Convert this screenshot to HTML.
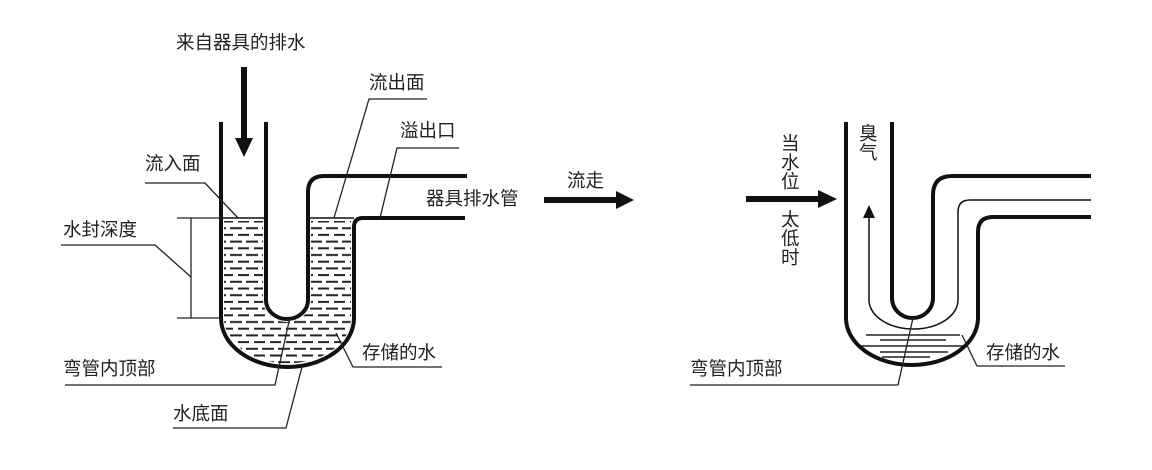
<!DOCTYPE html>
<html><head><meta charset="utf-8"><style>
html,body{margin:0;padding:0;background:#fff;}
svg text{font-family:"Liberation Sans","Noto Sans CJK SC",sans-serif;font-size:18.5px;fill:#222;}
</style></head><body>
<svg width="1152" height="465" viewBox="0 0 1152 465" xmlns="http://www.w3.org/2000/svg">
<defs>
<pattern id="dash" x="221" y="218" width="16" height="13.4" patternUnits="userSpaceOnUse">
<line x1="1" y1="3.5" x2="12" y2="3.5" stroke="#222" stroke-width="2"/>
<line x1="9" y1="10.2" x2="16" y2="10.2" stroke="#222" stroke-width="2"/>
<line x1="0" y1="10.2" x2="5" y2="10.2" stroke="#222" stroke-width="2"/>
</pattern>
</defs>
<path fill="url(#dash)" fill-rule="evenodd" d="M224,221 V318 A63,45 0 0 0 351,318 V221 Z M263,221 V300 A24,22 0 0 0 311,300 V221 Z"/>
<g fill="none" stroke="#111" stroke-width="4">
<path d="M221,122 V318 A66.5,49 0 0 0 354,318 V227 Q354,218 363,218 H465"/>
<path d="M266,122 V300 A21,19 0 0 0 308,300 V192 Q308,176 324,176 H467"/>
</g>
<g stroke="#111" stroke-width="1.6">
<line x1="221" y1="218" x2="266" y2="218"/>
<line x1="308" y1="218" x2="354" y2="218"/>
</g>
<line x1="244" y1="67" x2="244" y2="140" stroke="#111" stroke-width="6"/>
<polygon points="235,138 253,138 244,157" fill="#111"/>
<g fill="none" stroke="#222" stroke-width="1.3">
<polyline points="145,183 205,183 238,218"/>
<polyline points="61,245 155,245 191,277"/>
<line x1="191" y1="218" x2="191" y2="318"/>
<line x1="177" y1="218" x2="221" y2="218"/>
<line x1="177" y1="318" x2="221" y2="318"/>
<polyline points="427,99 369,99 334,218"/>
<polyline points="459,148 397,148 380,218"/>
<polyline points="65,385 275,385 290,317"/>
<polyline points="173,428 286,428 302,367"/>
<polyline points="336,333 353,367 442,367"/>
</g>
<text x="176" y="49">来自器具的排水</text>
<text x="145" y="170">流入面</text>
<text x="63" y="236">水封深度</text>
<text x="369" y="89">流出面</text>
<text x="400" y="137">溢出口</text>
<text x="426" y="205">器具排水管</text>
<text x="567" y="187">流走</text>
<text x="63" y="375">弯管内顶部</text>
<text x="173" y="420">水底面</text>
<text x="362" y="359">存储的水</text>
<line x1="544" y1="200" x2="618" y2="200" stroke="#111" stroke-width="6"/>
<polygon points="616,191 634,200 616,209" fill="#111"/>

<g stroke="#222" stroke-width="1.4">
<line x1="866" y1="335" x2="960" y2="335"/>
<line x1="880" y1="340" x2="946" y2="340"/>
<line x1="860" y1="346" x2="966" y2="346"/>
<line x1="880" y1="352" x2="948" y2="352"/>
<line x1="882" y1="357" x2="930" y2="357"/>
</g>
<g fill="none" stroke="#111" stroke-width="4">
<path d="M846,122 V318 A66,47 0 0 0 978,318 V232 Q978,217 993,217 H1091"/>
<path d="M892,122 V298 A20.5,20 0 0 0 933,298 V195 Q933,176 952,176 H1091"/>
</g>
<path d="M869,214 V300 A44.5,29 0 0 0 958,300 V212 Q958,200 970,200 H1091" fill="none" stroke="#111" stroke-width="1.5"/>
<polygon points="863,218 875,218 869,205" fill="#111"/>
<line x1="746" y1="199" x2="820" y2="199" stroke="#111" stroke-width="6"/>
<polygon points="818,190 837,199 818,208" fill="#111"/>
<g fill="none" stroke="#222" stroke-width="1.3">
<polyline points="690,385 898,385 913,318"/>
<polyline points="962,335 977,366 1065,366"/>
</g>
<text x="781" y="150">当</text>
<text x="781" y="169">水</text>
<text x="781" y="188">位</text>
<text x="781" y="226">太</text>
<text x="781" y="245">低</text>
<text x="781" y="264">时</text>
<text x="859" y="140">臭</text>
<text x="859" y="159">气</text>
<text x="690" y="375">弯管内顶部</text>
<text x="986" y="359">存储的水</text>
</svg>
</body></html>
